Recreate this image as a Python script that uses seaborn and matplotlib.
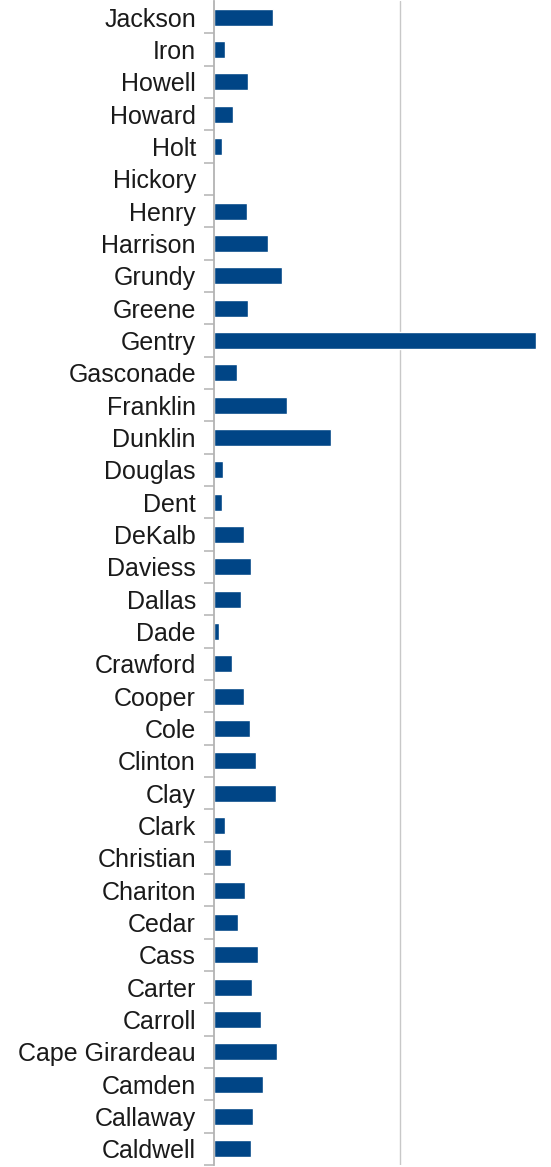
import numpy as np
import pandas as pd
import matplotlib
matplotlib.use("Agg")
import matplotlib.pyplot as plt
import seaborn as sns

# condados (de arriba hacia abajo) y valores
condados = ["Jackson", "Iron", "Howell", "Howard", "Holt", "Hickory", "Henry",
            "Harrison", "Grundy", "Greene", "Gentry", "Gasconade", "Franklin",
            "Dunklin", "Douglas", "Dent", "DeKalb", "Daviess", "Dallas", "Dade",
            "Crawford", "Cooper", "Cole", "Clinton", "Clay", "Clark", "Christian",
            "Chariton", "Cedar", "Cass", "Carter", "Carroll", "Cape Girardeau",
            "Camden", "Callaway", "Caldwell"]
valores = [6.3, 1.2, 3.7, 2.0, 0.9, 0.0, 3.5,
           5.8, 7.3, 3.7, 34.6, 2.5, 7.8,
           12.6, 1.0, 0.9, 3.2, 4.0, 2.9, 0.5,
           1.9, 3.2, 3.9, 4.5, 6.7, 1.2, 1.8,
           3.3, 2.6, 4.7, 4.1, 5.1, 6.8,
           5.3, 4.2, 4.0]
linea_grid = [20]

df = pd.DataFrame({"Condado": condados, "Valor": valores})

sns.set_style("white")
plt.rcParams["font.family"] = ["Liberation Sans", "DejaVu Sans"]

fig = plt.figure(figsize=(5.51, 11.67), dpi=100)
ax = fig.add_axes([214 / 551, 2 / 1167, 1 - 214 / 551, 1 - 3 / 1167])

sns.barplot(data=df, x="Valor", y="Condado", orient="h", color="#004586",
            saturation=1, width=0.53, ax=ax)

ax.set_xlim(0, 36.2)
ax.set_ylim(len(condados) - 0.5, -0.5)
ax.set_xlabel("")
ax.set_ylabel("")

# linea de cuadricula vertical
ax.set_xticks(linea_grid)
ax.set_xticklabels([])
ax.tick_params(axis="x", length=0)
ax.grid(axis="x", color="#c8c8c8", linewidth=1.0)
ax.set_axisbelow(True)

# etiquetas y marcas entre categorias
ax.tick_params(axis="y", which="major", length=0, labelsize=18, pad=13,
               labelcolor="#1a1a1a")
ax.set_yticks(np.arange(0.5, len(condados) - 0.5 + 1e-9, 1.0), minor=True)
ax.tick_params(axis="y", which="minor", left=True, length=7.5, width=1.1,
               color="#b3b3b3", direction="out")

for s in ["top", "right", "bottom"]:
    ax.spines[s].set_visible(False)
ax.spines["left"].set_color("#b3b3b3")
ax.spines["left"].set_linewidth(1.3)

fig.savefig("out.png", dpi=100)
